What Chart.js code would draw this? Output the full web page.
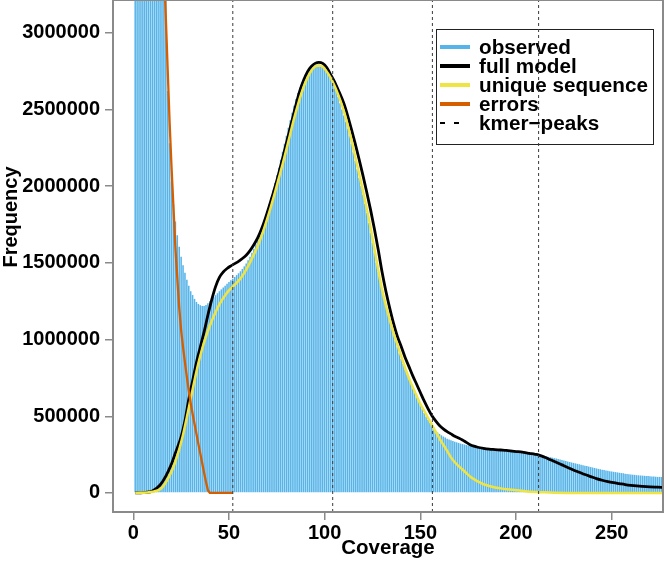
<!DOCTYPE html>
<html>
<head>
<meta charset="utf-8">
<title>GenomeScope profile</title>
<script src="https://cdn.jsdelivr.net/npm/chart.js@4.4.1/dist/chart.umd.min.js"></script>
<style>
  html, body { margin: 0; padding: 0; background: #fff; }
  #wrap { width: 664px; height: 561px; }
</style>
</head>
<body>
<div id="wrap"><canvas id="profile" width="664" height="561"></canvas></div>
<script>
  // observed k-mer histogram, one bar per coverage starting at 1
  const firstCoverage = 1;
  const observed = [
    42000000, 24000000, 15000000, 10500000, 8200000, 6900000, 6100000, 5500000, 5050000, 4700000,
    4420000, 4180000, 3980000, 3800000, 3650000, 3500000, 3300000, 2620000, 2280000, 2030000,
    1880000, 1770000, 1680000, 1605000, 1540000, 1485000, 1435000, 1390000, 1350000, 1315000,
    1290000, 1265000, 1245000, 1232000, 1224000, 1219000, 1218000, 1225000, 1236000, 1250000,
    1263000, 1276000, 1289000, 1302000, 1315000, 1327000, 1339000, 1351000, 1363000, 1375000,
    1386000, 1397000, 1408000, 1420000, 1432000, 1445000, 1460000, 1477000, 1496000, 1517000,
    1540000, 1565000, 1592000, 1621000, 1652000, 1685000, 1720000, 1757000, 1796000, 1837000,
    1880000, 1925000, 1972000, 2020000, 2070000, 2120000, 2172000, 2224000, 2276000, 2328000,
    2380000, 2430000, 2478000, 2524000, 2567000, 2607000, 2643000, 2675000, 2703000, 2727000,
    2747000, 2763000, 2775000, 2784000, 2790000, 2793000, 2793000, 2790000, 2783000, 2772000,
    2757000, 2738000, 2715000, 2688000, 2657000, 2622000, 2583000, 2540000, 2500000, 2460000,
    2420000, 2375000, 2325000, 2275000, 2220000, 2165000, 2110000, 2055000, 2000000, 1945000,
    1885000, 1825000, 1760000, 1695000, 1630000, 1565000, 1500000, 1440000, 1380000, 1320000,
    1265000, 1215000, 1165000, 1120000, 1075000, 1030000, 990000, 950000, 910000, 875000,
    840000, 805000, 772000, 740000, 710000, 680000, 652000, 625000, 598000, 572000,
    547000, 522000, 499000, 477000, 456000, 437000, 420000, 405000, 394000, 385000,
    376000, 368000, 361000, 354000, 348000, 343000, 338000, 334000, 330000, 326000,
    322000, 319000, 316000, 313000, 310000, 307000, 304000, 302000, 299000, 297000,
    295000, 293000, 291000, 289000, 287000, 286000, 284000, 283000, 281000, 280000,
    279000, 278000, 277000, 276000, 275000, 274000, 272000, 271000, 269000, 268000,
    266000, 265000, 263000, 262000, 260000, 259000, 257000, 255000, 253000, 251000,
    249000, 247000, 245000, 243000, 240000, 238000, 235000, 233000, 230000, 227000,
    224000, 221000, 218000, 215000, 211000, 208000, 205000, 202000, 199000, 196000,
    193000, 190000, 187000, 184000, 181000, 178000, 175000, 172000, 169000, 166000,
    163000, 160000, 157000, 155000, 152000, 150000, 147000, 145000, 142000, 140000,
    138000, 136000, 134000, 132000, 130000, 128000, 126000, 124000, 122000, 121000,
    119000, 118000, 116000, 115000, 114000, 113000, 112000, 111000, 110000, 109000,
    108000, 107000, 106000, 105000, 105000, 104000
  ];

  // full model fit
  const fullX = [1, 5, 10, 14, 17, 20, 22, 25, 27, 29, 31, 33, 35, 37, 39, 41, 43, 45, 47, 49,
    51, 53, 55, 57, 59, 61, 63, 65, 67, 69, 71, 73, 75, 77, 79, 81, 83, 85, 87, 89,
    91, 93, 95, 97, 99, 101, 103, 105, 107, 110, 112, 114, 116, 118, 120, 122, 124, 126, 128, 130,
    132, 134, 136, 138, 140, 142, 144, 146, 148, 150, 152, 154, 156, 158, 160, 162, 164, 166, 168, 170,
    172, 174, 176, 178, 180, 183, 186, 189, 192, 195, 198, 201, 204, 207, 210, 212, 215, 218, 221, 224,
    227, 230, 233, 236, 239, 242, 245, 248, 251, 254, 257, 260, 263, 266, 270, 274, 278];
  const fullY = [0, 2000, 12000, 52000, 110000, 190000, 260000, 365000, 470000, 610000,
    730000, 850000, 950000, 1050000, 1160000, 1260000, 1345000, 1405000, 1440000, 1463000,
    1480000, 1495000, 1510000, 1528000, 1550000, 1580000, 1618000, 1662000, 1720000, 1790000,
    1868000, 1950000, 2035000, 2130000, 2230000, 2330000, 2430000, 2530000, 2620000, 2690000,
    2745000, 2780000, 2800000, 2807000, 2800000, 2775000, 2730000, 2685000, 2630000, 2540000,
    2460000, 2370000, 2275000, 2175000, 2070000, 1960000, 1845000, 1720000, 1585000, 1440000,
    1315000, 1205000, 1105000, 1020000, 955000, 885000, 825000, 765000, 710000, 655000,
    600000, 550000, 505000, 470000, 440000, 418000, 400000, 385000, 370000, 358000,
    345000, 330000, 315000, 305000, 298000, 291000, 286000, 283000, 280000, 277000,
    273000, 269000, 264000, 258000, 252000, 247000, 233000, 216000, 200000, 183000,
    166000, 150000, 135000, 120000, 107000, 94000, 83000, 74000, 67000, 61000,
    55000, 50000, 46000, 43000, 40000, 38000, 36000];

  // unique sequence component
  const uniqueX = [1, 10, 15, 20, 22, 24, 26, 28, 30, 32, 34, 36, 38, 40, 42, 44, 46, 48, 50, 52,
    54, 56, 58, 60, 62, 64, 66, 68, 70, 72, 74, 76, 78, 80, 82, 84, 86, 88, 90, 92,
    94, 96, 98, 100, 102, 104, 106, 108, 110, 112, 114, 116, 118, 120, 122, 124, 126, 128, 130, 132,
    134, 136, 138, 140, 142, 144, 146, 148, 150, 152, 154, 156, 158, 160, 162, 164, 166, 168, 170, 172,
    174, 176, 178, 180, 183, 186, 189, 192, 195, 198, 201, 205, 210, 215, 220, 230, 240, 278];
  const uniqueY = [0, 8000, 35000, 140000, 205000, 285000, 380000, 495000, 615000, 735000,
    845000, 940000, 1020000, 1090000, 1150000, 1205000, 1250000, 1288000, 1320000, 1345000,
    1370000, 1398000, 1435000, 1478000, 1528000, 1580000, 1640000, 1710000, 1788000, 1870000,
    1958000, 2050000, 2142000, 2240000, 2340000, 2440000, 2530000, 2610000, 2678000, 2730000,
    2768000, 2785000, 2785000, 2765000, 2730000, 2685000, 2630000, 2565000, 2490000, 2400000,
    2300000, 2190000, 2080000, 1968000, 1852000, 1728000, 1592000, 1452000, 1325000, 1222000,
    1130000, 1042000, 968000, 890000, 818000, 750000, 690000, 635000, 580000, 535000,
    490000, 445000, 400000, 355000, 315000, 275000, 232000, 200000, 175000, 153000,
    130000, 108000, 90000, 75000, 57000, 45000, 36000, 30000, 25000, 21000,
    18000, 12000, 7000, 4000, 2000, 500, 0, 0];

  // sequencing errors component
  const errorsX = [12, 13, 14, 15, 16, 17, 18, 19, 20, 21, 22, 23, 24, 25, 26, 27, 28, 29, 30, 31,
    32, 33, 34, 35, 36, 37, 38, 39, 40, 52];
  const errorsY = [5200000, 4700000, 4250000, 3820000, 3440000, 3100000, 2750000, 2410000, 2120000, 1860000,
    1600000, 1400000, 1210000, 1060000, 950000, 850000, 755000, 665000, 585000, 515000,
    450000, 385000, 320000, 258000, 195000, 132000, 72000, 18000, 0, 0];

  // k-mer peak positions (dashed lines)
  const kmerPeaks = [52, 104.2, 156.3, 211.8];

  const xTicks = [0, 50, 100, 150, 200, 250];
  const yTicks = [0, 500000, 1000000, 1500000, 2000000, 2500000, 3000000];

  const X_MIN = -10.6, X_MAX = 276.8;
  const Y_MIN = -124000, Y_MAX = 3213000;

  const COLOR_HIST = '#56B4E9';
  const COLOR_FULL = '#000000';
  const COLOR_UNIQUE = '#F0E442';
  const COLOR_ERRORS = '#D55E00';
  const AXIS_GRAY = '#8a8a8a';
  const FONT = '"Liberation Sans", Arial, Helvetica, sans-serif';

  const legendItems = [
    { label: 'observed', color: COLOR_HIST },
    { label: 'full model', color: COLOR_FULL },
    { label: 'unique sequence', color: COLOR_UNIQUE },
    { label: 'errors', color: COLOR_ERRORS },
    { label: 'kmer\u2212peaks', color: '#000', dashed: true }
  ];

  const xy = (xs, ys) => xs.map((x, i) => ({ x: x, y: ys[i] }));

  const peakSets = kmerPeaks.map(p => ({
    type: 'line',
    data: [{ x: p, y: Y_MIN }, { x: p, y: Y_MAX }],
    borderColor: '#3a3a3a',
    borderWidth: 1,
    borderDash: [3, 3],
    pointRadius: 0,
    clip: 0
  }));

  const frameAndLegend = {
    id: 'frameAndLegend',
    beforeDatasetsDraw(chart) {
      const { ctx, chartArea: a } = chart;
      ctx.save();
      const bx = a.right - 227, by = a.top + 29, bw = 217, bh = 115;
      ctx.strokeStyle = '#222';
      ctx.lineWidth = 1;
      ctx.strokeRect(bx + 0.5, by + 0.5, bw, bh);
      ctx.font = 'bold 20.7px ' + FONT;
      ctx.textBaseline = 'middle';
      ctx.textAlign = 'left';
      legendItems.forEach((item, i) => {
        const y = by + 18 + i * 19;
        ctx.beginPath();
        ctx.strokeStyle = item.color;
        if (item.dashed) {
          ctx.lineWidth = 2;
          ctx.setLineDash([5, 9]);
          ctx.moveTo(bx + 4, y);
          ctx.lineTo(bx + 23, y);
        } else {
          ctx.lineWidth = 4;
          ctx.setLineDash([]);
          ctx.moveTo(bx + 4, y);
          ctx.lineTo(bx + 34, y);
        }
        ctx.stroke();
        ctx.setLineDash([]);
        ctx.fillStyle = '#000';
        ctx.fillText(item.label, bx + 43, y + 1);
      });
      ctx.restore();
    },
    afterDraw(chart) {
      const { ctx, chartArea: a } = chart;
      ctx.save();
      ctx.strokeStyle = AXIS_GRAY;
      ctx.lineWidth = 2;
      ctx.strokeRect(a.left, a.top, a.right - a.left, a.bottom - a.top);
      // y axis title sits a bit above the middle, as in the cropped original
      ctx.translate(11, 217);
      ctx.rotate(-Math.PI / 2);
      ctx.font = 'bold 20px ' + FONT;
      ctx.fillStyle = '#000';
      ctx.textAlign = 'center';
      ctx.textBaseline = 'middle';
      ctx.fillText('Frequency', 0, 0);
      ctx.restore();
    }
  };

  new Chart(document.getElementById('profile'), {
    type: 'line',
    data: {
      datasets: [
        ...peakSets,
        {
          label: 'errors',
          data: xy(errorsX, errorsY),
          borderColor: COLOR_ERRORS,
          borderWidth: 2.3,
          pointRadius: 0,
          tension: 0,
          clip: 0
        },
        {
          label: 'unique sequence',
          data: xy(uniqueX, uniqueY),
          borderColor: COLOR_UNIQUE,
          borderWidth: 2.5,
          pointRadius: 0,
          cubicInterpolationMode: 'monotone',
          clip: 0
        },
        {
          label: 'full model',
          data: xy(fullX, fullY),
          borderColor: COLOR_FULL,
          borderWidth: 2.8,
          pointRadius: 0,
          cubicInterpolationMode: 'monotone',
          clip: 0
        },
        {
          type: 'bar',
          label: 'observed',
          data: observed.map((v, i) => ({ x: firstCoverage + i, y: v })),
          backgroundColor: COLOR_HIST,
          borderWidth: 0,
          barPercentage: 1,
          categoryPercentage: 0.8,
          grouped: false,
          clip: 0
        }
      ]
    },
    options: {
      responsive: false,
      animation: false,
      events: [],
      layout: { padding: { top: 0, right: 1, bottom: 0, left: 0 } },
      plugins: {
        legend: { display: false },
        tooltip: { enabled: false }
      },
      scales: {
        x: {
          type: 'linear',
          min: X_MIN,
          max: X_MAX,
          offset: false,
          afterFit(s) { s.height = 49; s.paddingLeft = 0; s.paddingRight = 0; },
          afterBuildTicks(s) { s.ticks = xTicks.map(v => ({ value: v })); },
          grid: { offset: false, drawOnChartArea: false, drawTicks: true, tickLength: 8, color: AXIS_GRAY, lineWidth: 1.5 },
          border: { display: false },
          ticks: {
            color: '#000',
            padding: 1,
            maxRotation: 0,
            autoSkip: false,
            font: { family: FONT, size: 20, weight: 'bold' },
            callback: v => String(v)
          },
          title: {
            display: true,
            text: 'Coverage',
            color: '#000',
            padding: { top: 0, bottom: 0 },
            font: { family: FONT, size: 20.5, weight: 'bold' }
          }
        },
        y: {
          type: 'linear',
          min: Y_MIN,
          max: Y_MAX,
          afterFit(s) { s.width = 113; s.paddingTop = 0; s.paddingBottom = 0; },
          afterBuildTicks(s) { s.ticks = yTicks.map(v => ({ value: v })); },
          grid: { offset: false, drawOnChartArea: false, drawTicks: true, tickLength: 8, color: AXIS_GRAY, lineWidth: 1.5 },
          border: { display: false },
          ticks: {
            color: '#000',
            padding: 5,
            autoSkip: false,
            font: { family: FONT, size: 20, weight: 'bold' },
            callback: v => String(v)
          }
        }
      }
    },
    plugins: [frameAndLegend]
  });
</script>
</body>
</html>
